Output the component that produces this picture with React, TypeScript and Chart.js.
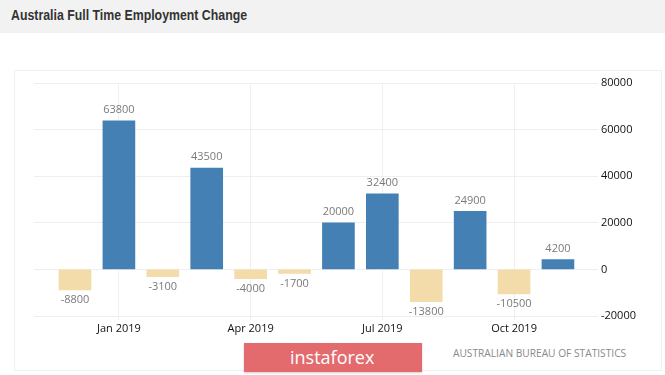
import React, { useEffect, useRef } from "react";
import { Chart, registerables } from "chart.js";

Chart.register(...registerables);

const categories = [
  "Dec 2018", "Jan 2019", "Feb 2019", "Mar 2019", "Apr 2019", "May 2019",
  "Jun 2019", "Jul 2019", "Aug 2019", "Sep 2019", "Oct 2019", "Nov 2019",
];
const values = [-8800, 63800, -3100, 43500, -4000, -1700, 20000, 32400, -13800, 24900, -10500, 4200];
const xTickLabels = ["Jan 2019", "Apr 2019", "Jul 2019", "Oct 2019"];
const yTicks = [-20000, 0, 20000, 40000, 60000, 80000];

const TITLE = "Australia Full Time Employment Change";
const SOURCE = "AUSTRALIAN BUREAU OF STATISTICS";

const POS_COLOR = "#4580b4";
const NEG_COLOR = "#f3dbaa";
const FONT = '"Open Sans", "Liberation Sans", sans-serif';

export default function App() {
  const ref = useRef<HTMLCanvasElement | null>(null);

  useEffect(() => {
    if (!ref.current) return;
    const tickIdx = xTickLabels.map((l) => categories.indexOf(l));
    const labelPlugin = {
      id: "valueLabels",
      afterDatasetsDraw(chart: any) {
        const ctx = chart.ctx;
        const meta = chart.getDatasetMeta(0);
        meta.data.forEach((el: any, i: number) => {
          const v = values[i];
          ctx.save();
          ctx.font = `11px ${FONT}`;
          ctx.fillStyle = "#7a7a7a";
          ctx.textAlign = "center";
          ctx.textBaseline = "middle";
          const y = v >= 0 ? el.y - 11 : el.y + 10;
          ctx.fillText(String(v), el.x, y);
          ctx.restore();
        });
      },
    };
    const chart = new Chart(ref.current, {
      type: "bar",
      data: {
        datasets: [
          {
            data: values.map((v, i) => ({ x: i, y: v })) as any,
            backgroundColor: values.map((v) => (v >= 0 ? POS_COLOR : NEG_COLOR)),
            barThickness: 32,
          },
        ],
      },
      options: {
        animation: false,
        responsive: false,
        devicePixelRatio: 1,
        layout: { padding: { left: 34, top: 83, right: 0, bottom: 0 } },
        plugins: {
          legend: { display: false },
          tooltip: { enabled: false },
          title: { display: false },
        },
        scales: {
          x: {
            type: "linear",
            min: -0.934,
            max: 11.73,
            offset: false,
            afterBuildTicks: (s: any) => {
              s.ticks = tickIdx.map((v) => ({ value: v }));
            },
            afterFit: (s: any) => {
              s.height = 59;
            },
            ticks: {
              autoSkip: false,
              maxRotation: 0,
              padding: 2,
              color: "#111",
              font: { family: FONT, size: 11 },
              callback: (v: any) => categories[v as number],
            },
            grid: { color: "#efefef", tickLength: 4, offset: false },
            border: { display: false },
          },
          y: {
            position: "right",
            min: -20000,
            max: 80000,
            afterBuildTicks: (s: any) => {
              s.ticks = yTicks.map((v) => ({ value: v }));
            },
            afterFit: (s: any) => {
              s.width = 75;
            },
            ticks: {
              padding: 3,
              color: "#111",
              font: { family: FONT, size: 11 },
              callback: (v: any) => String(v),
            },
            grid: { color: "#efefef", tickLength: 8 },
            border: { display: false },
          },
        },
      } as any,
      plugins: [labelPlugin],
    });
    return () => chart.destroy();
  }, []);

  return (
    <div style={{ position: "fixed", left: 0, top: 0, width: 665, height: 375, background: "#fff", overflow: "hidden" }}>
      <div style={{ position: "absolute", left: 0, top: 0, width: 665, height: 33, background: "#f2f2f2" }} />
      <div
        style={{
          position: "absolute", left: 11, top: 7, whiteSpace: "nowrap",
          fontFamily: '"Liberation Sans", Arial, sans-serif', fontWeight: "bold", fontSize: 14.5,
          color: "#333", transform: "scaleX(0.85)", transformOrigin: "left top",
        }}
      >
        {TITLE}
      </div>
      <div style={{ position: "absolute", left: 14, top: 70, width: 646, height: 299, border: "1px solid #f0f0f0" }} />
      <div
        style={{
          position: "absolute", left: 244, top: 343, width: 178, height: 29, background: "#e36b6e",
          boxShadow: "0 1px 2px rgba(0,0,0,0.2)",
        }}
      />
      <div
        style={{
          position: "absolute", left: 290, top: 343, height: 29, lineHeight: "29px",
          fontFamily: FONT, fontSize: 18, color: "#fff", whiteSpace: "nowrap",
        }}
      >
        instaforex
      </div>
      <div
        style={{
          position: "absolute", left: 453, top: 346, lineHeight: "14px",
          fontFamily: FONT, fontSize: 10.2, color: "#8a8a8a", whiteSpace: "nowrap",
        }}
      >
        {SOURCE}
      </div>
      <canvas ref={ref} width={665} height={375} style={{ position: "absolute", left: 0, top: 0, width: 665, height: 375 }} />
    </div>
  );
}
